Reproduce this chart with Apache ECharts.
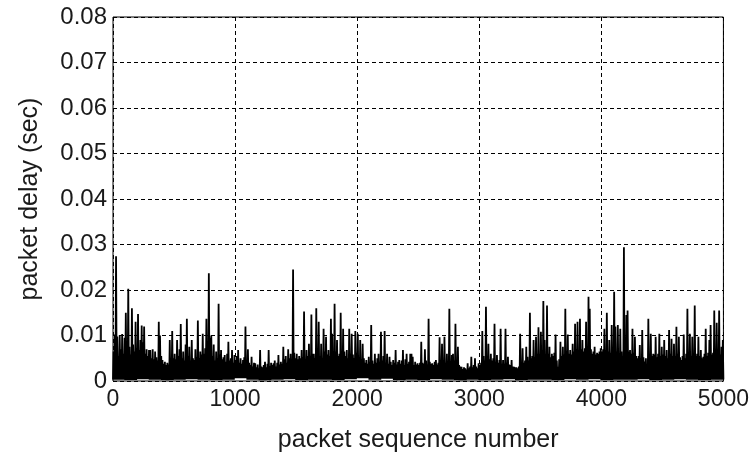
<!DOCTYPE html>
<html>
<head>
<meta charset="utf-8">
<script src="https://cdn.jsdelivr.net/npm/echarts@6/dist/echarts.min.js"></script>
<style>
  html, body { margin: 0; padding: 0; background: #fff; }
  #chart { width: 752px; height: 463px; }
</style>
</head>
<body>
<div id="chart"></div>
<script>
// Packet delay trace: one peak reading per 10 packets (ms), one floor reading per 100 packets (ms)
const packetStep = 10;
const peakDelayMs = [
  6.5, 10.2, 27.4, 9.8, 5.5, 10.1, 7.0, 10.3, 6.0, 9.5,
  15.0, 6.2, 20.3, 7.5, 5.8, 16.0, 8.0, 6.5, 13.0, 7.2,
  14.7, 6.8, 9.0, 12.2, 8.5, 12.0, 6.0, 7.0, 5.5, 6.8,
  6.8, 5.0, 7.0, 4.8, 6.5, 5.2, 4.5, 13.0, 10.0, 5.5,
  4.6, 3.8, 4.2, 3.5, 4.0, 3.6, 9.0, 4.5, 11.0, 5.0,
  6.0, 4.8, 9.0, 5.5, 7.0, 12.5, 5.0, 6.5, 4.5, 8.0,
  13.7, 5.5, 7.5, 4.5, 9.0, 5.0, 4.6, 7.0, 5.2, 13.3,
  5.0, 6.5, 5.8, 10.4, 6.0, 7.2, 13.7, 8.0, 23.7, 9.5,
  10.0, 5.5, 8.0, 4.5, 6.5, 5.0, 17.0, 5.8, 6.8, 4.8,
  5.2, 5.7, 4.2, 6.0, 8.6, 4.5, 5.0, 6.8, 4.0, 5.7,
  4.5, 5.5, 6.8, 4.0, 5.0, 3.8, 4.6, 5.2, 12.0, 4.2,
  7.0, 4.0, 3.5, 5.3, 3.2, 4.0, 3.9, 3.0, 3.6, 2.8,
  6.8, 3.2, 3.0, 3.5, 4.2, 3.0, 3.8, 6.8, 3.3, 4.0,
  3.5, 3.9, 4.5, 3.2, 4.0, 5.7, 3.6, 4.2, 3.8, 7.5,
  4.8, 5.5, 4.0, 7.0, 5.0, 6.0, 4.5, 24.5, 6.2, 5.0,
  6.0, 4.8, 5.5, 5.0, 6.8, 5.2, 15.3, 4.5, 6.8, 5.5,
  8.2, 5.5, 14.6, 6.0, 6.0, 5.0, 16.0, 7.0, 13.0, 5.5,
  8.2, 5.0, 11.5, 6.5, 9.7, 5.8, 6.8, 5.5, 13.7, 10.4,
  6.0, 17.0, 6.5, 9.0, 5.5, 6.0, 15.0, 5.2, 11.5, 6.5,
  5.5, 6.8, 5.0, 11.5, 6.0, 10.4, 5.8, 5.0, 11.0, 6.2,
  10.4, 5.2, 9.0, 4.8, 8.2, 5.0, 4.0, 4.6, 3.8, 5.3,
  4.2, 12.3, 4.5, 3.8, 6.0, 4.0, 5.0, 6.0, 4.2, 10.8,
  4.5, 5.5, 11.0, 4.0, 6.0, 3.8, 5.3, 4.2, 3.5, 4.6,
  4.0, 6.8, 3.6, 4.2, 4.6, 3.8, 4.5, 6.8, 3.5, 4.8,
  6.0, 3.8, 4.2, 6.0, 6.0, 5.3, 3.5, 4.2, 3.6, 3.9,
  3.5, 4.0, 8.6, 4.0, 3.8, 7.0, 4.5, 3.6, 13.7, 4.2,
  3.8, 3.9, 3.5, 4.2, 4.6, 3.6, 4.0, 9.6, 3.8, 8.2,
  4.5, 9.7, 4.0, 6.0, 3.8, 15.9, 4.2, 5.7, 6.0, 4.5,
  12.6, 4.0, 7.5, 3.5, 3.2, 3.1, 2.6, 3.0, 2.8, 2.5,
  3.9, 2.8, 3.2, 5.3, 3.0, 3.5, 5.0, 3.2, 2.8, 3.9,
  3.5, 4.0, 11.0, 5.5, 4.5, 16.3, 5.0, 8.2, 4.8, 6.0,
  4.5, 5.0, 12.6, 4.2, 5.7, 4.0, 4.6, 11.5, 3.8, 4.6,
  3.8, 11.5, 4.0, 5.3, 3.6, 3.5, 4.6, 3.2, 3.1, 3.0,
  3.0, 2.8, 3.2, 10.4, 3.8, 7.2, 4.0, 4.5, 7.5, 5.3,
  4.5, 15.0, 5.0, 5.5, 9.0, 5.2, 9.7, 6.0, 11.8, 5.8,
  10.8, 6.0, 17.6, 9.0, 5.5, 16.6, 6.0, 7.5, 5.2, 6.0,
  5.5, 6.2, 10.2, 4.5, 3.1, 4.8, 8.6, 5.5, 7.5, 5.8,
  15.9, 6.5, 10.2, 6.0, 6.8, 5.8, 8.2, 6.5, 12.6, 7.0,
  13.0, 6.5, 13.7, 7.0, 9.0, 6.5, 7.2, 13.0, 6.8, 18.5,
  15.9, 7.0, 6.0, 6.5, 7.5, 5.8, 6.2, 6.0, 6.5, 7.2,
  6.5, 7.0, 11.5, 6.8, 15.0, 6.5, 9.0, 6.2, 12.3, 7.0,
  19.6, 12.0, 6.5, 12.3, 6.0, 11.5, 6.5, 5.3, 29.4, 6.0,
  14.5, 15.5, 6.5, 6.8, 6.0, 11.5, 6.2, 9.7, 5.5, 5.0,
  5.5, 7.9, 5.0, 11.2, 5.2, 4.3, 5.0, 3.1, 13.7, 5.5,
  10.4, 5.5, 6.0, 5.8, 9.7, 5.2, 6.0, 10.4, 5.5, 7.5,
  5.8, 9.0, 5.5, 6.8, 5.0, 11.2, 6.0, 9.3, 5.5, 8.2,
  5.5, 11.9, 6.0, 9.7, 5.2, 4.6, 5.5, 10.2, 5.0, 6.0,
  15.9, 5.8, 10.4, 5.5, 9.7, 6.0, 16.6, 5.5, 6.0, 9.7,
  5.5, 6.8, 5.0, 5.3, 6.0, 11.5, 5.5, 6.2, 9.0, 12.3,
  5.8, 6.2, 15.5, 5.5, 12.8, 6.0, 15.5, 5.8, 7.5, 9.0
];
const floorDelayMs = [
  0.3, 0.2, 0.4, 0.3, 0.2, 0.3, 0.4, 0.3, 0.2, 0.3,
  0.6, 0.3, 0.2, 0.3, 0.4, 0.2, 0.3, 0.3, 0.2, 0.4,
  0.6, 0.3, 0.5, 0.2, 0.3, 0.2, 0.4, 0.3, 0.2, 0.3,
  0.2, 0.3, 0.4, 0.2, 0.3, 0.3, 0.2, 0.4, 0.3, 0.4,
  0.2, 0.3, 0.3, 0.4, 0.2, 0.3, 0.4, 0.3, 0.2, 0.3
];
const xTickValues = [0, 1000, 2000, 3000, 4000, 5000];
const yTickLabels = ['0', '0.01', '0.02', '0.03', '0.04', '0.05', '0.06', '0.07', '0.08'];

// Each 10-packet slot contributes a floor point and a peak point, giving the dense trace
const trace = [];
peakDelayMs.forEach((peak, i) => {
  const floor = floorDelayMs[Math.floor(i / 10)];
  trace.push([i * packetStep, floor / 1000]);
  trace.push([i * packetStep + packetStep / 2, peak / 1000]);
});
trace.push([5000, floorDelayMs[floorDelayMs.length - 1] / 1000]);

const textFont = { fontFamily: 'Liberation Sans', color: '#1a1a1a' };
const gridLine = { show: true, lineStyle: { color: '#000', width: 1, type: [4, 3] } };

const chart = echarts.init(document.getElementById('chart'), null, { renderer: 'canvas' });
chart.setOption({
  animation: false,
  backgroundColor: '#fff',
  grid: { left: 113, right: 28, top: 17, bottom: 82, show: true, borderColor: '#000', borderWidth: 1, backgroundColor: 'transparent' },
  xAxis: {
    type: 'value',
    min: xTickValues[0],
    max: xTickValues[xTickValues.length - 1],
    interval: 1000,
    name: 'packet sequence number',
    nameLocation: 'middle',
    nameGap: 47,
    nameTextStyle: Object.assign({ fontSize: 25 }, textFont),
    axisLine: { show: false },
    axisTick: { show: false },
    axisLabel: Object.assign({
      fontSize: 23,
      margin: 7,
      formatter: (v) => String(xTickValues[Math.round(v / 1000)])
    }, textFont),
    splitLine: gridLine
  },
  yAxis: {
    type: 'value',
    min: 0,
    max: 0.08,
    interval: 0.01,
    name: 'packet delay (sec)',
    nameLocation: 'middle',
    nameGap: 70,
    nameTextStyle: Object.assign({ fontSize: 25 }, textFont),
    axisLine: { show: false },
    axisTick: { show: false },
    axisLabel: Object.assign({
      fontSize: 24,
      margin: 6,
      formatter: (v) => yTickLabels[Math.round(v / 0.01)]
    }, textFont),
    splitLine: gridLine
  },
  series: [{
    type: 'line',
    data: trace,
    showSymbol: false,
    symbol: 'none',
    sampling: null,
    lineStyle: { color: '#000', width: 1.8 },
    z: 3
  }]
});
</script>
</body>
</html>
